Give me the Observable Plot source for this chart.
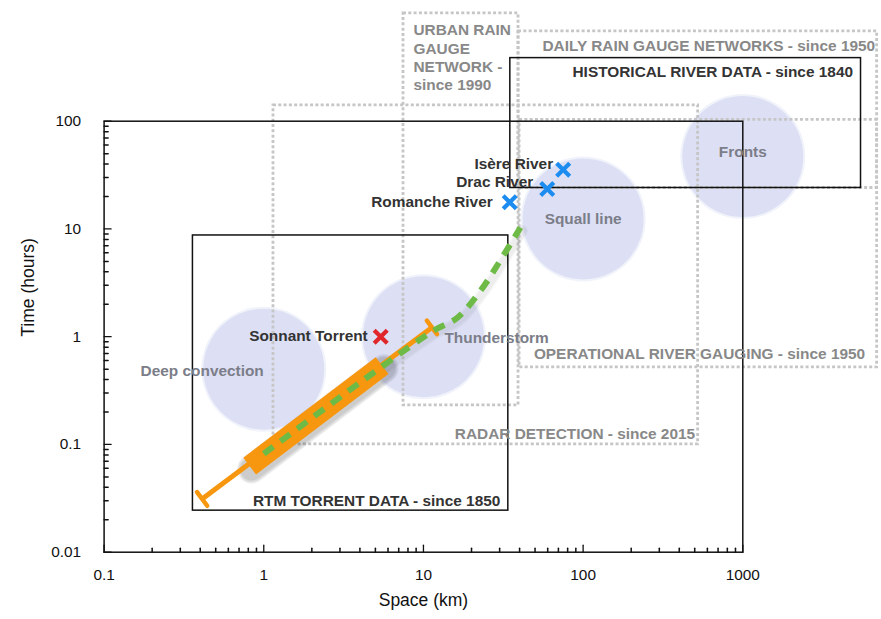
<!DOCTYPE html>
<html><head><meta charset="utf-8">
<script src="https://cdn.jsdelivr.net/npm/d3@7"></script>
<script src="https://cdn.jsdelivr.net/npm/@observablehq/plot@0.6"></script>
<style>body{margin:0;background:#fff}</style>
</head><body><div id="chart"></div>
<script>
// ---- data ----
const xTicks = [0.1, 1, 10, 100, 1000];
const yTicks = [0.01, 0.1, 1, 10, 100];

const phenomena = ["Deep convection", "Thunderstorm", "Squall line", "Fronts"];
const phenX = [1, 10, 100, 1000];
const phenY = [0.5, 1, 12.4, 47];

const boxLabels = [
  "RTM TORRENT DATA - since 1850",
  "HISTORICAL RIVER DATA - since 1840",
  "URBAN RAIN\nGAUGE\nNETWORK -\nsince 1990",
  "DAILY RAIN GAUGE NETWORKS - since 1950",
  "RADAR DETECTION - since 2015",
  "OPERATIONAL RIVER GAUGING - since 1950"
];
const boxX1 = [0.36, 35, 7.5, 39.4, 1.15, 40];
const boxX2 = [34, 5500, 39.4, 6940, 525, 6940];
const boxY1 = [0.0243, 24, 0.23, 24, 0.1, 0.52];
const boxY2 = [8.7, 385, 1000, 681, 140, 103];
const boxKind = ["solid", "solid", "dotted", "dotted", "dotted", "dotted"];

const siteNames = ["Sonnant Torrent", "Romanche River", "Drac River", "Isère River"];
const siteX = [5.4, 34.7, 59.6, 75];
const siteY = [1, 17.7, 23.5, 35.4];
const siteType = ["torrent", "river", "river", "river"];

const whiskerX = [0.411, 11.3];
const whiskerY = [0.0312, 1.22];
const bandX = [0.816, 5.51];
const bandY = [0.063, 0.54];

const trendX = [1.0, 5.38, 11.6, 16.3, 22.8, 30.3, 40.5];
const trendY = [0.082, 0.516, 1.14, 1.5, 2.68, 5.1, 10.3];

// ---- tables ----
const boxes = boxLabels.map((label, i) => ({label, x1: boxX1[i], x2: boxX2[i], y1: boxY1[i], y2: boxY2[i], kind: boxKind[i]}));
const phen = phenomena.map((name, i) => ({name, x: phenX[i], y: phenY[i]}));
const sites = siteNames.map((name, i) => ({name, x: siteX[i], y: siteY[i], type: siteType[i]}));
const whisker = whiskerX.map((x, i) => ({x, y: whiskerY[i]}));
const band = bandX.map((x, i) => ({x, y: bandY[i]}));
const trend = trendX.map((x, i) => ({x, y: trendY[i]}));
const minorX = xTicks.slice(0, -1).flatMap(d => d3.range(2, 10).map(k => d * k));
const minorY = yTicks.slice(0, -1).flatMap(d => d3.range(2, 10).map(k => d * k));

// ---- layout ----
const W = 881, H = 619;
const mL = 103.6, mR = 138.7, mT = 120.7, mB = 67.3;
const xs = d3.scaleLog().domain([xTicks[0], xTicks[xTicks.length - 1]]).range([mL, W - mR]);
const ys = d3.scaleLog().domain([yTicks[0], yTicks[yTicks.length - 1]]).range([H - mB, mT]);
const ang = Math.atan2(xs(whiskerX[1]) - xs(whiskerX[0]), -(ys(whiskerY[1]) - ys(whiskerY[0]))) * 180 / Math.PI;
const seg = {draw(ctx, l) { ctx.moveTo(0, 0); ctx.lineTo(0, -l); }};

const ORANGE = "#f7960f", GREEN = "#6dbb46", DOT = "#c6c6c6", GRAY = "#888", DARK = "#333", PHEN = "#7b7d88";
const B = (i) => [boxes[i]];
const fontB = {fontWeight: "bold", fontSize: 15.4};

// soft shadow built from a few translucent, widening strokes
const bandShadow = [8, 5, 2].map(w => Plot.line(band, {x: "x", y: "y", stroke: "#000", strokeOpacity: 0.07, strokeWidth: 21 + w, strokeLinecap: "round", dx: 2, dy: 3}));
const trendShadow = [5, 2].map(w => Plot.line(trend, {x: "x", y: "y", curve: "catmull-rom", stroke: "#000", strokeOpacity: 0.035, strokeWidth: 6 + w, strokeLinecap: "round", dx: 2, dy: 3}));

const plot = Plot.plot({
  width: W, height: H,
  marginLeft: mL, marginRight: mR, marginTop: mT, marginBottom: mB,
  style: {fontFamily: "'Liberation Sans', Arial, Helvetica, sans-serif", fontSize: "15.4px", background: "#fff", overflow: "visible"},
  x: {type: "log", domain: [xTicks[0], xTicks[xTicks.length - 1]], range: [mL, W - mR]},
  y: {type: "log", domain: [yTicks[0], yTicks[yTicks.length - 1]], range: [H - mB, mT]},
  marks: [
    Plot.dot(phen, {x: "x", y: "y", r: 62.5, fill: "#dde0f5", fillOpacity: 0.4}),
    Plot.dot(phen, {x: "x", y: "y", r: 60.5, fill: "#dde0f5"}),
    Plot.rect(boxes.filter(d => d.kind === "dotted"), {x1: "x1", x2: "x2", y1: "y1", y2: "y2", fill: "none", stroke: DOT, strokeWidth: 2.8, strokeDasharray: "3,2.3"}),
    Plot.rect(boxes.filter(d => d.kind === "solid"), {x1: "x1", x2: "x2", y1: "y1", y2: "y2", fill: "none", stroke: "#111", strokeWidth: 1.5}),
    Plot.frame({stroke: "#111", strokeWidth: 1.5}),
    ...trendShadow,
    ...bandShadow,
    // orange range
    Plot.line(whisker, {x: "x", y: "y", stroke: ORANGE, strokeWidth: 5, strokeLinecap: "butt"}),
    Plot.line(band, {x: "x", y: "y", stroke: ORANGE, strokeWidth: 21, strokeLinecap: "butt"}),
    Plot.vector(whisker, {x: "x", y: "y", length: 17, rotate: ang - 90, anchor: "middle", shape: seg, stroke: ORANGE, strokeWidth: 4.5}),
    // trend
    Plot.line(trend, {x: "x", y: "y", curve: "catmull-rom", stroke: GREEN, strokeWidth: 6, strokeDasharray: "12,9", strokeLinecap: "butt"}),
    // ticks
    Plot.vector(minorX, {x: d => d, y: yTicks[0], length: 4, rotate: 0, anchor: "start", shape: seg, stroke: "#111"}),
    Plot.vector(xTicks, {x: d => d, y: yTicks[0], length: 7, rotate: 0, anchor: "start", shape: seg, stroke: "#111", strokeWidth: 1.3}),
    Plot.vector(minorY, {x: xTicks[0], y: d => d, length: 4, rotate: 90, anchor: "start", shape: seg, stroke: "#111"}),
    Plot.vector(yTicks, {x: xTicks[0], y: d => d, length: 7, rotate: 90, anchor: "start", shape: seg, stroke: "#111", strokeWidth: 1.3}),
    Plot.axisX(xTicks, {tickSize: 0, tickPadding: 17, tickFormat: d => String(d), label: null, fill: "#111"}),
    Plot.axisY(yTicks, {tickSize: 0, tickPadding: 23, tickFormat: d => String(d), label: null, fill: "#111"}),
    Plot.text(["Space (km)"], {frameAnchor: "bottom", dy: 54, text: d => d, fill: "#111", fontSize: 17.5}),
    Plot.text(["Time (hours)"], {frameAnchor: "left", dx: -76, rotate: -90, text: d => d, fill: "#111", fontSize: 17.5}),
    // sites
    Plot.dot(sites, {x: "x", y: "y", symbol: "times", r: 6, strokeWidth: 4.2, stroke: d => d.type === "torrent" ? "#e1262b" : "#1c8cf0"}),
    Plot.text([sites[0]], {x: "x", y: "y", text: "name", textAnchor: "end", dx: -13, dy: -1, fill: DARK, ...fontB}),
    Plot.text([sites[1]], {x: "x", y: "y", text: "name", textAnchor: "end", dx: -17, dy: 0, fill: DARK, ...fontB}),
    Plot.text([sites[2]], {x: "x", y: "y", text: "name", textAnchor: "end", dx: -14, dy: -7, fill: DARK, ...fontB}),
    Plot.text([sites[3]], {x: "x", y: "y", text: "name", textAnchor: "end", dx: -10, dy: -6, fill: DARK, ...fontB}),
    // phenomena labels
    Plot.text([phen[0]], {x: "x", y: "y", text: "name", textAnchor: "end", dx: 0, dy: 2, fill: PHEN, ...fontB}),
    Plot.text([phen[1]], {x: "x", y: "y", text: "name", textAnchor: "start", dx: 21, dy: 1, fill: PHEN, ...fontB}),
    Plot.text([phen[2]], {x: "x", y: "y", text: "name", dy: 0, fill: PHEN, ...fontB}),
    Plot.text([phen[3]], {x: "x", y: "y", text: "name", dy: -4, fill: PHEN, ...fontB}),
    // box labels
    Plot.text(B(0), {x: "x2", y: "y1", text: "label", textAnchor: "end", dx: -8, dy: -10, fill: DARK, ...fontB}),
    Plot.text(B(1), {x: "x2", y: "y2", text: "label", textAnchor: "end", dx: -8, dy: 14, fill: DARK, ...fontB}),
    Plot.text(B(2), {x: "x1", y: "y2", text: "label", textAnchor: "start", lineAnchor: "top", lineHeight: 1.2, dx: 10, dy: 8.5, fill: GRAY, ...fontB}),
    Plot.text(B(3), {x: "x2", y: "y2", text: "label", textAnchor: "end", dx: -2, dy: 15, fill: GRAY, ...fontB}),
    Plot.text(B(4), {x: "x2", y: "y1", text: "label", textAnchor: "end", dx: -3, dy: -10, fill: GRAY, ...fontB}),
    Plot.text(B(5), {x: "x2", y: "y1", text: "label", textAnchor: "end", dx: -12, dy: -13, fill: GRAY, ...fontB})
  ]
});

document.getElementById("chart").appendChild(plot);
</script>
</body></html>
